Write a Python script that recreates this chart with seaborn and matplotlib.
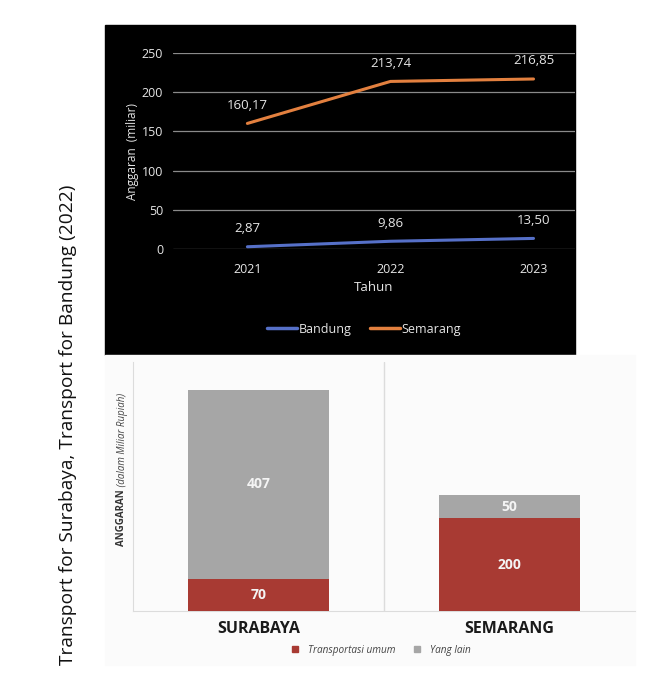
import pandas as pd
import matplotlib.pyplot as plt
import seaborn as sns
from matplotlib.patches import Rectangle
from matplotlib.lines import Line2D

# top chart data
tahun = [2021, 2022, 2023]
bandung = [2.87, 9.86, 13.50]
semarang = [160.17, 213.74, 216.85]

# bottom chart data
kota = ["SURABAYA", "SEMARANG"]
transportasi_umum = [70, 200]
yang_lain = [407, 50]

judul = "Transport for Surabaya, Transport for Bandung (2022)"

sns.set_style("white")
plt.rcParams['font.family'] = ['Open Sans', 'DejaVu Sans']

fig = plt.figure(figsize=(6.52, 6.8), dpi=100)

# panel backgrounds (behind the axes)
fig.patches.append(Rectangle((105 / 652, 1 - 355 / 680), 470 / 652, 330 / 680,
                             transform=fig.transFigure, color="black", zorder=-5))
fig.patches.append(Rectangle((105 / 652, 1 - 665 / 680), 530 / 652, 310 / 680,
                             transform=fig.transFigure, color="#fbfbfb", zorder=-5))

# ---- line chart ----
df_line = pd.DataFrame({"Tahun": tahun * 2,
                        "Anggaran": bandung + semarang,
                        "Kota": ["Bandung"] * 3 + ["Semarang"] * 3})
ax1 = fig.add_axes([173 / 652, 1 - 249 / 680, 402 / 652, 196 / 680])
ax1.set_facecolor("black")
warna_line = {"Bandung": "#5670c8", "Semarang": "#e3803f"}
sns.lineplot(data=df_line, x="Tahun", y="Anggaran", hue="Kota", palette=warna_line,
             linewidth=2.2, ax=ax1, legend=False, zorder=3)
for l in ax1.lines:
    l.set_clip_on(False)
ax1.set_xlim(2020.48, 2023.29)
ax1.set_ylim(0, 250)
ax1.set_yticks([0, 50, 100, 150, 200, 250])
ax1.set_xticks(tahun)
ax1.grid(axis="y", color="#8a8a8a", linewidth=0.9)
for s in ax1.spines.values():
    s.set_visible(False)
ax1.tick_params(colors="#e6e6e6", labelsize=9, length=0, pad=7)
ax1.tick_params(axis="x", pad=10)
ax1.set_xlabel("Tahun", color="#e6e6e6", fontsize=9.5, labelpad=4)
ax1.set_ylabel("Anggaran  (miliar)", color="#e6e6e6", fontsize=8.5, labelpad=2)
for seri in [bandung, semarang]:
    for x, y in zip(tahun, seri):
        ax1.annotate(f"{y:.2f}".replace(".", ","), (x, y), xytext=(0, 13),
                     textcoords="offset points", ha="center", va="center",
                     color="#e6e6e6", fontsize=9.5)
h1 = [Line2D([], [], color=warna_line[k], lw=2.5) for k in warna_line]
fig.legend(h1, list(warna_line), loc="center", bbox_to_anchor=(364 / 652, 1 - 329 / 680),
           ncol=2, frameon=False, fontsize=9, labelcolor="#e6e6e6",
           handlelength=2.4, handletextpad=0.1, columnspacing=1.5)

# ---- stacked bar chart ----
df_bar = pd.DataFrame({"Kota": kota,
                       "Transportasi umum": transportasi_umum,
                       "Yang lain": yang_lain})
df_bar["Total"] = df_bar["Transportasi umum"] + df_bar["Yang lain"]
merah, abu = "#a83a33", "#a6a6a6"
ax2 = fig.add_axes([133 / 652, 1 - 611 / 680, 502 / 652, 249 / 680])
ax2.set_facecolor("#fbfbfb")
sns.barplot(data=df_bar, x="Kota", y="Total", color=abu, width=0.56, saturation=1,
            linewidth=0, ax=ax2, zorder=2)
sns.barplot(data=df_bar, x="Kota", y="Transportasi umum", color=merah, width=0.56,
            saturation=1, linewidth=0, ax=ax2, zorder=3)
ax2.set_xlim(-0.5, 1.5)
ax2.set_ylim(0, 538)
ax2.axvline(0.5, color="#dcdcdc", lw=1)
for s in ["top", "right"]:
    ax2.spines[s].set_visible(False)
ax2.spines["left"].set_color("#dcdcdc")
ax2.spines["bottom"].set_color("#dcdcdc")
ax2.set_yticks([])
ax2.tick_params(axis="x", length=0, pad=7, labelsize=11.5)
for t in ax2.get_xticklabels():
    t.set_fontweight("bold")
    t.set_color("#1a1a1a")
ax2.set_xlabel("")
ax2.set_ylabel("")
bold = fig.text(122 / 652, 1 - 546 / 680, "ANGGARAN", rotation=90, ha="center",
                va="bottom", fontsize=7, fontweight="bold", color="#333333")
ax2.annotate(" (dalam Miliar Rupiah)", xy=(0.5, 1), xycoords=bold, rotation=90,
             ha="center", va="bottom", fontsize=7, style="italic", color="#444444",
             annotation_clip=False)
for i, row in df_bar.iterrows():
    ax2.text(i, row["Transportasi umum"] / 2, f"{row['Transportasi umum']}",
             ha="center", va="center", color="#f4f4f4", fontsize=10, fontweight="bold", zorder=4)
    ax2.text(i, row["Transportasi umum"] + row["Yang lain"] / 2, f"{row['Yang lain']}",
             ha="center", va="center", color="#f4f4f4", fontsize=10, fontweight="bold", zorder=4)
h2 = [Line2D([], [], marker="s", ls="", color=c, markersize=5) for c in [merah, abu]]
fig.legend(h2, ["Transportasi umum", "Yang lain"], loc="center",
           bbox_to_anchor=(378 / 652, 1 - 650 / 680), ncol=2, frameon=False,
           prop={"style": "italic", "size": 7.2}, labelcolor="#444444",
           handletextpad=0.3, columnspacing=1.2)

# side title
fig.text(68 / 652, 1 - 425 / 680, judul, rotation=90, ha="center", va="center",
         fontsize=13.8, color="#111111")

fig.savefig("out.png", dpi=100)
